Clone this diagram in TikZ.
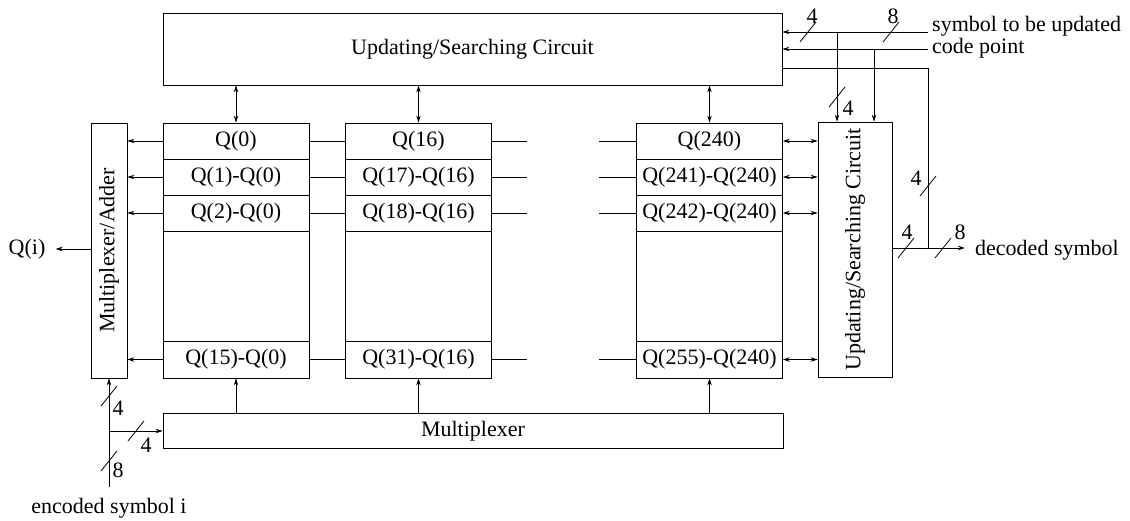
\documentclass[tikz,border=0pt]{standalone}
\usepackage{fontspec}
\setmainfont{Liberation Serif}
\usepackage{graphicx}
\usetikzlibrary{arrows.meta,calc}
\newcommand{\busmark}[1]{\draw[conn] ($(#1)+(-8,10)$) -- ($(#1)+(8,-10)$);}
\begin{document}
\begin{tikzpicture}[x=1pt,y=-1pt,
 txt/.style={font=\fontsize{22}{24}\selectfont},
 box/.style={draw,line width=0.8pt,inner sep=0pt,txt},
 cell/.style={box,minimum width=146pt,minimum height=36pt},
 colbox/.style={box,minimum width=146pt,minimum height=255pt},
 conn/.style={line width=0.8pt},
 arr/.style={conn,-{Stealth[length=7pt,width=4.5pt]}},
 darr/.style={conn,{Stealth[length=7pt,width=4.5pt]}-{Stealth[length=7pt,width=4.5pt]}},
 lbl/.style={txt,inner sep=0pt}]
\useasboundingbox (0,0) rectangle (1130,520);

% main blocks
\node[box,minimum width=619pt,minimum height=72pt] (top) at (472.5,49) {\raisebox{-3pt}{Updating/Searching Circuit}};
\node[box,minimum width=36pt,minimum height=255pt] (mux) at (109,250.5) {\rotatebox{90}{Multiplexer/Adder}};
\node[box,minimum width=74pt,minimum height=255pt] (rbox) at (855,249.5) {\rotatebox{90}{Updating/Searching Circuit}};
\node[box,minimum width=620pt,minimum height=35pt] (mplx) at (473,431) {Multiplexer};

% columns
\node[colbox] (col1) at (236,250.5) {};
\node[colbox] (col2) at (418.5,250.5) {};
\node[colbox] (col3) at (709.5,250.5) {};

\node[cell] (c1a) at (236,141) {Q(0)};
\node[cell] (c1b) at (236,177) {Q(1)-Q(0)};
\node[cell] (c1c) at (236,213) {Q(2)-Q(0)};
\node[cell,minimum height=37pt] (c1d) at (236,359.5) {Q(15)-Q(0)};

\node[cell] (c2a) at (418.5,141) {Q(16)};
\node[cell] (c2b) at (418.5,177) {Q(17)-Q(16)};
\node[cell] (c2c) at (418.5,213) {Q(18)-Q(16)};
\node[cell,minimum height=37pt] (c2d) at (418.5,359.5) {Q(31)-Q(16)};

\node[cell] (c3a) at (709.5,141) {Q(240)};
\node[cell] (c3b) at (709.5,177) {Q(241)-Q(240)};
\node[cell] (c3c) at (709.5,213) {Q(242)-Q(240)};
\node[cell,minimum height=37pt] (c3d) at (709.5,359.5) {Q(255)-Q(240)};

% top box <-> columns, multiplexer -> columns
\foreach \c in {col1,col2,col3}{
  \draw[darr] (\c.north |- top.south) -- (\c.north);
  \draw[arr] (\c.south |- mplx.north) -- (\c.south);
}

% rows
\foreach \r in {a,b,c,d}{
  \draw[arr] (c1\r.west) -- (c1\r.west -| mux.east);
  \draw[conn] (c1\r.east) -- (c2\r.west);
  \draw[conn] (c2\r.east) -- ++(35,0) coordinate (g2\r);
  \draw[conn] (c3\r.west) -- ++(-37,0) coordinate (g3\r);
  \draw[darr] (c3\r.east) -- (c3\r.east -| rbox.west);
}

% Q(i)
\node[lbl] (qi) at (27,249) {Q(i)};
\draw[arr] (mux.west |- qi.east) -- ([xshift=10pt]qi.east);

% encoded symbol
\node[lbl] (enc) at (109,508) {encoded symbol i};
\coordinate (encs) at (109,487);
\coordinate (br) at (109,431);
\draw[arr] (encs) -- (mux.south);
\draw[arr] (br) -- (br -| mplx.west);
\busmark{109,396}
\node[lbl] at (118,408) {4};
\busmark{136,431}
\node[lbl] at (146,445) {4};
\busmark{109,461}
\node[lbl] at (118,470) {8};

% top right inputs
\node[lbl,anchor=west] (sym) at (932,26) {symbol to be updated};
\node[lbl,anchor=west] (cp) at (932,48.5) {code point};
\coordinate (s1) at (928,32);
\coordinate (s2) at (928,49);
\draw[arr] (s1) -- (s1 -| top.east);
\draw[arr] (s2) -- (s2 -| top.east);
\coordinate (j1) at (837,32);
\coordinate (j2) at (874,49);
\draw[arr] (j1) -- (j1 |- rbox.north);
\draw[arr] (j2) -- (j2 |- rbox.north);
\busmark{808,32}
\node[lbl] at (812,16) {4};
\busmark{891,32}
\node[lbl] at (893,16) {8};
\busmark{837,97}
\node[lbl] at (848,108) {4};

% feedback and decoded symbol
\coordinate (f1) at (928,68);
\coordinate (f2) at (928,248);
\draw[conn] (f1 -| top.east) -- (f1) -- (f2);
\busmark{928,186}
\node[lbl] at (916,178) {4};
\node[lbl,anchor=west] (dec) at (975,250) {decoded symbol};
\draw[arr] (f2 -| rbox.east) -- (f2 -| 965,0);
\busmark{906,248}
\node[lbl] at (907,232) {4};
\busmark{943,248}
\node[lbl] at (960,232) {8};
\end{tikzpicture}
\end{document}
